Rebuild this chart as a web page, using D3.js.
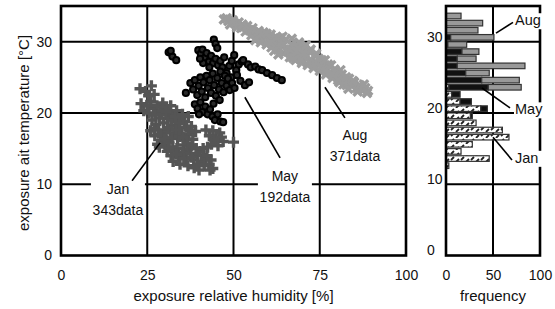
<!DOCTYPE html>
<html><head><meta charset="utf-8">
<script src="https://cdn.jsdelivr.net/npm/d3@7"></script>
<style>
body{margin:0;background:#fff}
svg{display:block}
text{font-family:"Liberation Sans",Arial,sans-serif;fill:#111}
</style>
</head><body><svg id="c" width="555" height="309"></svg>
<script>
// ---------- data ----------
const humTicks = [0, 25, 50, 75, 100];
const tempTicks = [0, 10, 20, 30];
const freqTicks = [0, 50, 100];
const months = ["Jan", "May", "Aug"];
const monthCounts = ["343data", "192data", "371data"];

// [relative humidity %, temperature °C]
const janPoints = [
 [22.9,23.4],[24.5,23.0],[26.2,23.8],[25.4,22.4],[23.2,21.3],[24.0,20.3],[26.0,21.6],[27.0,22.6],
 [25.5,20.0],[26.8,20.6],[27.8,21.0],[28.9,20.2],[30.0,20.8],[31.2,20.1],[32.4,19.6],[33.5,20.3],
 [34.6,19.2],[35.8,18.8],[26.4,19.0],[27.5,18.4],[28.6,19.3],[29.7,18.6],[30.8,19.2],[31.9,18.2],
 [33.0,18.8],[34.1,17.9],[36.9,19.5],[37.8,18.1],[29.5,21.4],[31.8,21.0],
 [26.0,17.5],[27.2,16.8],[28.3,17.6],[29.4,16.6],[30.5,17.4],[31.6,16.5],[32.7,17.2],[33.8,16.4],
 [34.9,17.0],[36.0,16.2],[37.1,17.0],[38.2,16.3],[28.0,15.6],[29.1,16.0],[30.2,15.4],[31.3,15.9],
 [32.4,15.2],[35.5,15.5],[39.0,17.4],[33.6,15.0],[36.6,14.9],
 [30.8,14.6],[31.9,14.0],[33.0,14.7],[34.1,13.8],[35.2,14.5],[36.3,13.6],[37.4,14.3],[38.5,13.4],
 [39.6,14.1],[40.7,13.2],[41.8,13.6],[42.9,12.8],[44.0,12.2],[43.5,13.4],[32.5,13.2],[34.5,12.8],
 [36.8,12.6],[38.6,12.3],[40.0,12.0],[41.5,12.6],[37.6,15.2],[39.2,15.0],
 [42.0,17.6],[43.0,16.8],[44.0,17.5],[45.0,16.4],[46.0,17.2],[47.0,16.0],[43.6,15.6],[45.5,15.4],
 [42.5,15.2],[50.0,15.9],
 [25.0,21.0],[27.3,19.7],[29.2,19.8],[30.4,20.2],[32.0,19.0],[33.2,19.5],[34.4,18.5],[35.2,19.8],
 [36.4,18.0],[37.0,17.6],[27.0,17.8],[28.9,17.0],[30.0,16.3],[31.0,17.8],[32.2,16.5],[33.3,17.6],
 [34.3,16.7],[35.4,16.6],[36.6,15.7],[38.0,15.5],[31.2,15.1],[33.5,14.2],[35.6,13.6],[37.9,13.8],
 [39.6,12.8],[40.3,14.6],[41.2,15.0],[42.3,14.0],[43.2,12.0],[44.5,16.2],[46.5,16.6],[28.5,15.2]
];
const mayPoints = [
 [31.2,28.5],[32.3,27.9],[33.4,27.4],[31.8,28.7],
 [44.3,30.3],[44.8,29.7],[45.3,29.1],
 [39.8,28.8],[40.5,28.3],[41.0,28.9],[41.6,27.7],[42.2,28.4],[42.9,27.2],[43.5,28.0],[44.1,27.0],
 [44.8,27.6],[45.5,26.7],[46.2,27.3],[46.8,26.4],[47.3,27.8],[41.2,27.0],[43.0,26.4],[40.3,27.6],
 [48.0,25.6],[48.8,26.6],[49.5,27.3],[50.2,28.1],[50.8,26.0],[51.5,26.8],[52.4,27.2],[49.3,25.0],
 [51.0,25.3],[52.0,24.5],
 [52.8,27.4],[54.2,26.8],[55.0,26.4],[56.3,26.5],[57.3,26.1],[58.3,26.0],[59.7,25.6],[61.2,25.3],
 [62.6,24.9],[64.0,24.6],[53.3,23.9],[54.5,24.3],
 [36.2,22.8],[37.5,24.2],[38.3,23.3],[38.8,24.6],[39.5,22.5],[39.9,23.8],[40.4,25.0],[40.8,23.0],
 [41.3,24.3],[41.8,22.2],[42.2,25.2],[42.6,23.5],[43.1,24.6],[43.5,22.8],[44.0,25.5],[44.4,23.9],
 [44.9,22.4],[45.3,24.9],[45.8,23.3],[46.2,25.8],[46.6,24.2],[47.1,22.9],[47.5,25.2],[48.0,23.8],
 [48.4,24.8],[48.9,23.2],[49.6,24.2],[50.3,23.5],[46.0,21.8],[44.2,21.3],
 [38.8,21.2],[39.6,20.6],[40.4,21.5],[41.0,20.1],[41.8,20.9],[42.5,19.8],[43.2,20.5],[43.9,19.5],
 [44.6,19.0],[45.4,19.8],[46.2,18.8],[47.0,18.7],[40.0,19.8]
];
const augPoints = [
 [47.2,33.1],[48.5,32.9],[49.0,32.4],[50.3,32.6],[51.0,32.0],[52.2,31.9],[53.0,32.1],[53.5,31.4],
 [54.6,31.6],[55.2,30.9],[56.0,31.3],[56.8,30.6],[57.5,31.0],[58.2,30.2],[59.0,30.7],[59.6,29.6],
 [60.3,30.4],[61.0,29.2],[61.5,30.1],[62.3,29.6],[62.8,28.9],[63.5,30.5],[64.0,29.4],[64.6,28.4],
 [65.2,30.3],[65.8,29.0],[66.3,27.8],[66.9,29.6],[67.5,28.5],[68.0,27.4],[68.6,29.4],[69.2,28.2],
 [69.8,27.0],[70.3,29.0],[70.9,27.8],[71.5,26.7],[72.0,28.6],[72.6,27.4],[73.2,26.3],[73.8,28.0],
 [74.4,26.9],[75.0,25.9],[75.6,27.4],[76.2,26.3],[76.8,25.4],[77.4,26.8],[78.0,25.7],[78.7,24.9],
 [79.3,26.1],[80.0,25.1],[80.7,24.3],[81.4,25.4],[82.1,24.5],[82.8,23.9],[83.5,24.8],[84.2,23.8],
 [85.0,24.3],[85.8,23.5],[86.6,23.9],[87.4,23.2],[88.2,23.5],[89.0,23.1],[64.2,30.7],[60.8,31.0],
 [57.3,31.5],[63.0,28.2],
 [48.0,33.3],[49.8,33.0],[51.5,32.7],[52.6,32.4],[54.0,32.2],[55.5,31.9],[56.3,30.2],[57.9,29.9],
 [58.7,31.3],[59.6,31.1],[60.8,29.9],[61.8,28.7],[62.5,30.6],[63.8,29.9],[64.6,29.6],[65.6,28.6],
 [66.6,28.9],[66.9,30.4],[67.3,27.7],[68.3,28.6],[69.0,29.9],[69.5,27.5],[70.5,28.4],[71.0,29.5],
 [71.8,27.2],[72.4,28.9],[73.5,27.0],[74.0,28.3],[74.7,27.6],[75.4,26.4],[76.5,27.4],[77.0,26.0],
 [78.3,26.7],[78.8,25.4],[79.8,25.7],[80.3,24.6],[81.0,26.0],[81.8,24.0],[82.6,25.0],[83.3,23.4],
 [84.6,24.5],[86.0,23.0],[87.8,24.0],[88.7,22.8]
];

// histogram: 1 °C bins (lower bound), counts per month
const tempBins = [12,13,14,15,16,17,18,19,20,21,22,23,24,25,26,27,28,29,30,31,32,33];
const janFreq  = [3,46,16,28,67,60,32,26,37,15,6,3,0,0,0,0,0,0,0,0,0,0];
const mayFreq  = [0,0,0,0,0,0,0,2,7,12,9,42,38,21,12,12,17,2,5,0,0,0];
const augFreq  = [0,0,0,0,0,0,0,0,0,0,0,35,40,25,72,20,18,20,46,34,39,16];

// annotations (data units): leader line start/end, label anchor
const scatterNotes = [
 {m:0, from:[28.7,15.8], to:[20.6,10.5], at:[16.5,8.6]},
 {m:1, from:[53.3,22.2], to:[63.5,13.7], at:[64.9,10.45]},
 {m:2, from:[76.5,23.6], to:[82.3,19.3], at:[85.2,16.2]}
];
const histNotes = [
 {m:0, from:[50,16.6], to:[70.2,13.4], at:[73.4,13.0]},
 {m:1, from:[38.3,23.5], to:[68.1,20.7], at:[73.4,19.8]},
 {m:2, from:[53.2,31.2], to:[71.3,32.7], at:[73.4,32.3]}
];

// ---------- drawing ----------
const svg = d3.select("#c");
svg.append("rect").attr("width",555).attr("height",309).attr("fill","#fff");

const L=61, R=406, T=6, B=255.5, HL=446, HR=540;
const x = d3.scaleLinear().domain([0,100]).range([L,R]);
const y = d3.scaleLinear().domain([0,35]).range([B,T]);
const hx = d3.scaleLinear().domain([0,100]).range([HL,HR]);

const defs = svg.append("defs");
const pat = defs.append("pattern").attr("id","hatch").attr("patternUnits","userSpaceOnUse")
  .attr("width",10).attr("height",6);
pat.append("rect").attr("width",10).attr("height",6).attr("fill","#fff");
pat.append("path").attr("d","M1,4 L4,1 M6,6 L9,3").attr("stroke","#222").attr("stroke-width",1.8);

// grid lines
const grid = svg.append("g").attr("stroke","#000").attr("stroke-width",2);
grid.selectAll(".gx").data(humTicks.slice(1,-1)).join("line")
  .attr("x1",d=>x(d)).attr("x2",d=>x(d)).attr("y1",T).attr("y2",B);
grid.selectAll(".gy").data(tempTicks.slice(1)).join("line")
  .attr("x1",L).attr("x2",R).attr("y1",d=>y(d)).attr("y2",d=>y(d));
grid.selectAll(".hx").data([50]).join("line")
  .attr("x1",d=>hx(d)).attr("x2",d=>hx(d)).attr("y1",T).attr("y2",B);
grid.selectAll(".hy").data(tempTicks.slice(1)).join("line")
  .attr("x1",HL).attr("x2",HR).attr("y1",d=>y(d)).attr("y2",d=>y(d));

// scatter points
function crossPath(s){ return `M${-s},0L${s},0M0,${-s}L0,${s}`; }
svg.append("g").selectAll("path").data(janPoints).join("path")
  .attr("transform",d=>`translate(${x(d[0])},${y(d[1])})`)
  .attr("d",crossPath(5.5)).attr("stroke","#555").attr("stroke-width",3.4).attr("fill","none");
svg.append("g").selectAll("path").data(augPoints).join("path")
  .attr("transform",d=>`translate(${x(d[0])},${y(d[1])}) rotate(45)`)
  .attr("d",crossPath(6)).attr("stroke","#9c9c9c").attr("stroke-width",3.4).attr("fill","none");
svg.append("g").selectAll("circle").data(mayPoints).join("circle")
  .attr("cx",d=>x(d[0])).attr("cy",d=>y(d[1])).attr("r",3.1)
  .attr("fill","#2a2a2a").attr("stroke","#000").attr("stroke-width",2);

// histogram bars (stacked horizontally)
const rows = tempBins.map((b,i)=>({bin:b, Jan:janFreq[i], May:mayFreq[i], Aug:augFreq[i]}));
const stack = d3.stack().keys(months)(rows);
const fills = {Jan:"url(#hatch)", May:"#111", Aug:"#999"};
const barH = 5.6;
stack.forEach(layer=>{
  svg.append("g").selectAll("rect").data(layer.filter(d=>d[1]>d[0])).join("rect")
    .attr("x",d=>hx(d[0])).attr("width",d=>hx(d[1])-hx(d[0]))
    .attr("y",d=>y(d.data.bin+0.6)-barH/2).attr("height",barH)
    .attr("fill",fills[layer.key]).attr("stroke","#333").attr("stroke-width",1.2);
});

// frames
svg.append("rect").attr("x",L).attr("y",T).attr("width",R-L).attr("height",B-T)
  .attr("fill","none").attr("stroke","#000").attr("stroke-width",2.6);
svg.append("rect").attr("x",HL).attr("y",T).attr("width",HR-HL).attr("height",B-T)
  .attr("fill","none").attr("stroke","#000").attr("stroke-width",2.6);

// axes labels via d3 axes
function styleAxis(g){ g.select(".domain").remove(); g.selectAll("line").remove();
  g.selectAll("text").attr("font-size",14).attr("fill","#111")
   .attr("font-family","'Liberation Sans',Arial,sans-serif"); }
svg.append("g").attr("transform",`translate(0,${B})`)
  .call(d3.axisBottom(x).tickValues(humTicks).tickSize(0).tickPadding(14.5).tickFormat(d3.format("d")))
  .call(styleAxis);
svg.append("g").attr("transform",`translate(${L},0)`)
  .call(d3.axisLeft(y).tickValues(tempTicks).tickSize(0).tickPadding(9).tickFormat(d3.format("d")))
  .call(styleAxis);
svg.append("g").attr("transform",`translate(0,${B})`)
  .call(d3.axisBottom(hx).tickValues(freqTicks).tickSize(0).tickPadding(14.5).tickFormat(d3.format("d")))
  .call(styleAxis);
const hy = svg.append("g").attr("transform",`translate(427,0)`)
  .call(d3.axisLeft(y).tickValues(tempTicks).tickSize(0).tickPadding(0).tickFormat(d3.format("d")))
  .call(styleAxis);
hy.selectAll("text").attr("text-anchor","start").attr("x",0).attr("dy","0.32em")
  .attr("transform","translate(0,-5)");

// axis titles
svg.append("text").attr("x",(L+R)/2).attr("y",301).attr("text-anchor","middle")
  .attr("font-size",15).text("exposure relative humidity [%]");
svg.append("text").attr("transform",`translate(29,133) rotate(-90)`).attr("text-anchor","middle")
  .attr("font-size",15).text("exposure ait temperature [°C]");
svg.append("text").attr("x",493).attr("y",301).attr("text-anchor","middle")
  .attr("font-size",15).text("frequency");

// scatter annotations
scatterNotes.forEach(n=>{
  svg.append("line").attr("x1",x(n.from[0])).attr("y1",y(n.from[1]))
    .attr("x2",x(n.to[0])).attr("y2",y(n.to[1])).attr("stroke","#000").attr("stroke-width",1.6);
  const cx = x(n.at[0]), by = y(n.at[1]);
  svg.append("rect").attr("x",cx-27).attr("y",by-13).attr("width",54).attr("height",36).attr("fill","#fff");
  svg.append("text").attr("x",cx).attr("y",by).attr("text-anchor","middle").attr("font-size",14).text(months[n.m]);
  svg.append("text").attr("x",cx).attr("y",by+21).attr("text-anchor","middle").attr("font-size",14).text(monthCounts[n.m]);
});
// histogram annotations
histNotes.forEach(n=>{
  svg.append("line").attr("x1",hx(n.from[0])).attr("y1",y(n.from[1]))
    .attr("x2",hx(n.to[0])).attr("y2",y(n.to[1])).attr("stroke","#000").attr("stroke-width",1.6);
  const lx = hx(n.at[0]), by = y(n.at[1]);
  svg.append("rect").attr("x",lx-1).attr("y",by-12).attr("width",40).attr("height",16).attr("fill","#fff");
  svg.append("text").attr("x",lx).attr("y",by).attr("font-size",14.5).text(months[n.m]);
});
</script></body></html>
